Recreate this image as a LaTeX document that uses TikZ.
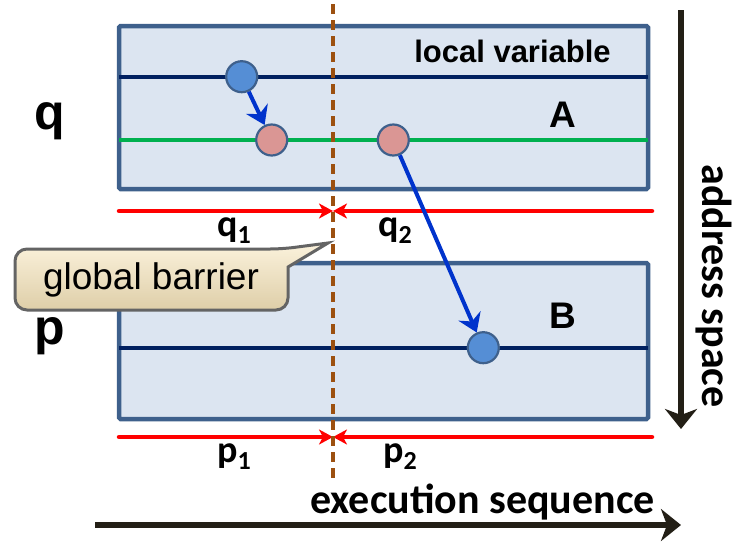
\documentclass[tikz,border=0pt]{standalone}
\usepackage{fontspec}
\setmainfont{Liberation Sans}
\newfontfamily\calib{Carlito}
\usetikzlibrary{arrows.meta,shapes.geometric}
\definecolor{boxfill}{RGB}{220,229,241}
\definecolor{boxdraw}{RGB}{62,96,140}
\definecolor{navy}{RGB}{0,32,96}
\definecolor{grn}{RGB}{0,176,80}
\definecolor{bluec}{RGB}{85,142,213}
\definecolor{pinkc}{RGB}{218,150,148}
\definecolor{arrblue}{RGB}{0,51,204}
\definecolor{brn}{RGB}{156,80,16}
\definecolor{darkar}{RGB}{35,31,22}
\definecolor{calltop}{RGB}{251,242,220}
\definecolor{callbot}{RGB}{222,206,168}
\definecolor{callline}{RGB}{100,100,100}
\tikzset{
  membox/.style={draw=boxdraw, fill=boxfill, line width=4.5pt, rounded corners=1.5pt},
  navyline/.style={draw=navy, line width=4.5pt},
  grnline/.style={draw=grn, line width=4.5pt},
  bdot/.style={circle, draw=boxdraw, line width=2.2pt, fill=bluec, minimum size=31pt, inner sep=0pt},
  pdot/.style={circle, draw=boxdraw, line width=2.2pt, fill=pinkc, minimum size=31pt, inner sep=0pt},
  barrow/.style={draw=arrblue, line width=4pt, -{Stealth[length=18pt,width=24pt,inset=6pt]}},
  redline/.style={draw=red, line width=4.5pt, line cap=round, -{Stealth[length=14pt,width=15pt,inset=4pt]}},
  barrier/.style={draw=brn, line width=3.5pt, dash pattern=on 10pt off 6pt},
  bigarrow/.style={draw=darkar, line width=5.5pt, -{Stealth[length=20pt,width=32pt,inset=6pt]}},
  boldlbl/.style={font=\fontsize{31}{31}\selectfont\bfseries, inner sep=0pt, anchor=base},
  letter/.style={font=\fontsize{37}{37}\selectfont\bfseries, inner sep=0pt, anchor=base},
  biglbl/.style={font=\fontsize{50}{50}\selectfont\bfseries, inner sep=0pt, anchor=base},
  sublbl/.style={font=\calib\fontsize{38}{38}\selectfont\bfseries, inner sep=0pt, anchor=base},
  axislbl/.style={font=\calib\fontsize{42}{42}\selectfont\bfseries, inner sep=0pt},
}
\newcommand{\subone}[2]{#1\raisebox{-0.2em}{\fontsize{26}{26}\selectfont #2}}
\begin{document}
\begin{tikzpicture}[x=1pt,y=-1pt]
\useasboundingbox (0,0) rectangle (748,544);
% memory boxes
\draw[membox] (119,26) rectangle (648,189);
\draw[membox] (119,263) rectangle (648,419);
% address lines
\coordinate (l1a) at (119,77);  \coordinate (l1b) at (648,77);
\coordinate (l2a) at (119,140); \coordinate (l2b) at (648,140);
\coordinate (l3a) at (119,348); \coordinate (l3b) at (648,348);
\draw[navyline] (l1a) -- (l1b);
\draw[grnline] (l2a) -- (l2b);
\draw[navyline] (l3a) -- (l3b);
% red range lines
\coordinate (rq1) at (119,211); \coordinate (rq2) at (652,211); \coordinate (rqm) at (333,211);
\coordinate (rp1) at (119,437); \coordinate (rp2) at (652,437); \coordinate (rpm) at (333,437);
\draw[redline] (rq1) -- (rqm);
\draw[redline] (rq2) -- (rqm);
\draw[redline] (rp1) -- (rpm);
\draw[redline] (rp2) -- (rpm);
% barrier
\coordinate (bt) at (333,4);
\coordinate (bb) at (333,478);
\draw[barrier] (bt) -- (bb);
% dots
\node[bdot] (d1) at (241.7,76.7) {};
\node[pdot] (d2) at (271.7,140) {};
\node[pdot] (d3) at (393.3,140) {};
\node[bdot] (d4) at (483.3,347.7) {};
\draw[barrow] (d1) -- (d2);
\draw[barrow] (d3) -- (d4);
% labels
\node[boldlbl] (lv) at (512.5,62) {local variable};
\node[letter] (A) at (563,127) {A};
\node[letter] (B) at (563,328) {B};
\node[biglbl] (q) at (50,129) {q};
\node[biglbl] (p) at (50,344) {p};
\node[sublbl] (q1) at (234,236) {\subone{q}{1}};
\node[sublbl] (q2) at (395,236) {\subone{q}{2}};
\node[sublbl] (p1) at (234,462) {\subone{p}{1}};
\node[sublbl] (p2) at (400,462) {\subone{p}{2}};
% callout
\coordinate (tip) at (328,243);
\path[draw=callline, line width=3pt, top color=calltop, bottom color=callbot]
  (15,280) [rounded corners=12pt] -- (15,249) -- (282,249) [sharp corners] -- (tip)
  -- (288,267) [rounded corners=12pt] -- (288,310) -- (15,310) -- cycle;
\node[font=\fontsize{37}{37}\selectfont, inner sep=0pt] (gb) at (151,280) {global barrier};
% axes
\coordinate (ea) at (95,525); \coordinate (eb) at (681,525);
\draw[bigarrow] (ea) -- (eb);
\node[axislbl, anchor=base east] (es) at (655,513) {execution sequence};
\coordinate (aa) at (681,10); \coordinate (ab) at (681,429);
\draw[bigarrow] (aa) -- (ab);
\node[axislbl, anchor=base, rotate=-90] (as) at (702,286) {address space};
\end{tikzpicture}
\end{document}
